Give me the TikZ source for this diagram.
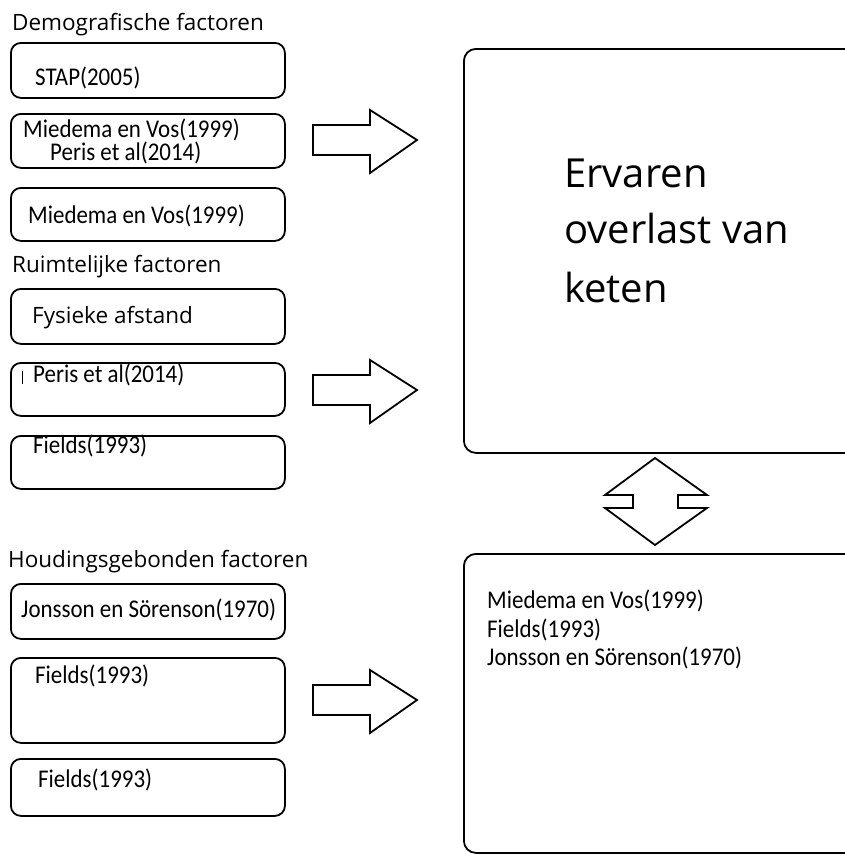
\documentclass[tikz,border=0pt]{standalone}
\usepackage{fontspec}
\setmainfont{Carlito}[FakeStretch=0.9]
\newfontfamily\headfont{Open Sans}
\usetikzlibrary{positioning}

\tikzset{
  factorbox/.style={draw, line width=1.8pt, rounded corners=10pt, minimum width=274pt, anchor=north west, inner sep=0pt},
  bigbox/.style={draw, line width=1.8pt, rounded corners=12pt, minimum width=400pt, anchor=north west, inner sep=0pt},
  reftext/.style={anchor=base west, inner sep=0pt, font=\fontsize{25.5}{30}\selectfont},
  headtext/.style={anchor=base west, inner sep=0pt, font=\headfont\fontsize{22.5}{27}\selectfont},
  blockarrow/.style={line width=1.8pt, line join=miter},
}

\begin{document}
\begin{tikzpicture}[x=1pt, y=-1pt]
\useasboundingbox (0,0) rectangle (845,854);
\clip (0,0) rectangle (845,854);

% demografische factoren
\node[headtext] (demo) at (12,30) {Demografische factoren};
\node[factorbox, minimum height=55pt] (d1) at (10,42) {};
\node[reftext] (d1txt) at (35,85) {STAP(2005)};
\node[factorbox, minimum height=54pt] (d2) at (10,113) {};
\node[reftext] (d2txt) at (23,137) {Miedema en Vos(1999)};
\node[reftext] (d2txtb) at (50,160) {Peris et al(2014)};
\node[factorbox, minimum height=53pt] (d3) at (10,187) {};
\node[reftext] (d3txt) at (28,223) {Miedema en Vos(1999)};

% ruimtelijke factoren
\node[headtext] (ruimte) at (12,272) {Ruimtelijke factoren};
\node[factorbox, minimum height=55pt] (r1) at (10,288) {};
\node[headtext] (r1txt) at (32,323) {Fysieke afstand};
\node[factorbox, minimum height=53pt] (r2) at (10,362) {};
\draw[line width=0.8pt] (22,371) -- (22,384);
\node[reftext] (r2txt) at (33,382) {Peris et al(2014)};
\node[factorbox, minimum height=53pt] (r3) at (10,435) {};
\node[reftext] (r3txt) at (33,453) {Fields(1993)};

% houdingsgebonden factoren
\node[headtext] (houding) at (8,567) {Houdingsgebonden factoren};
\node[factorbox, minimum height=55pt] (h1) at (10,583) {};
\node[reftext] (h1txt) at (21,617) {Jonsson en Sörenson(1970)};
\node[factorbox, minimum height=85pt] (h2) at (10,657) {};
\node[reftext] (h2txt) at (35,683) {Fields(1993)};
\node[factorbox, minimum height=57pt] (h3) at (10,758) {};
\node[reftext] (h3txt) at (38,787) {Fields(1993)};

% rechts
\node[bigbox, minimum height=404pt] (overlast) at (463,48) {};
\node[headtext, font=\headfont\fontsize{40}{48}\selectfont] (ov1) at (564,187) {Ervaren};
\node[headtext, font=\headfont\fontsize{40}{48}\selectfont] (ov2) at (564,243) {overlast van};
\node[headtext, font=\headfont\fontsize{40}{48}\selectfont] (ov3) at (564,302) {keten};

\node[bigbox, minimum height=299pt] (bronnen) at (463,553) {};
\node[reftext] (br1) at (487,608) {Miedema en Vos(1999)};
\node[reftext] (br2) at (487,637) {Fields(1993)};
\node[reftext] (br3) at (487,665) {Jonsson en Sörenson(1970)};

% pijlen
\foreach \ay in {140,390,700}
  \draw[blockarrow] (313,\ay-15) -- (370,\ay-15) -- (370,\ay-30) -- (417,\ay)
    -- (370,\ay+33) -- (370,\ay+15) -- (313,\ay+15) -- cycle;

\draw[blockarrow] (655,458) -- (707,495) -- (678,495) -- (678,508) -- (707,508)
  -- (655,545) -- (605,508) -- (633,508) -- (633,495) -- (605,495) -- cycle;
\end{tikzpicture}
\end{document}
